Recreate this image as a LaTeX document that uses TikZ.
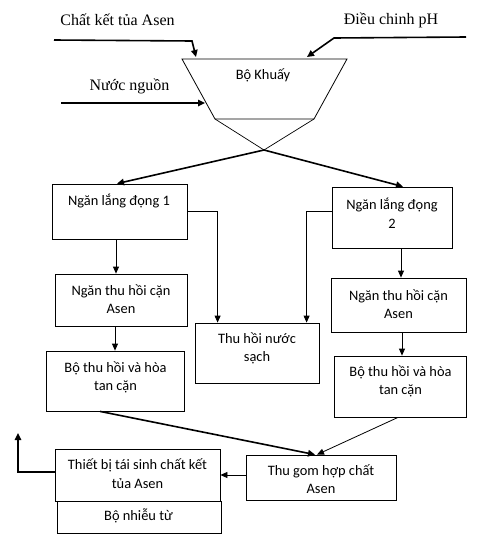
\documentclass[tikz,border=0pt]{standalone}
\usepackage{fontspec}
\setmainfont{Liberation Serif}
\newfontfamily\calfont{Carlito}
\usetikzlibrary{arrows.meta}
\begin{document}
\begin{tikzpicture}[x=1pt,y=-1pt,
  box/.style={draw,line width=0.8pt,inner sep=0pt},
  txt/.style={font=\calfont\fontsize{14.4}{18.5}\selectfont,align=center,inner sep=0pt},
  stxt/.style={font=\fontsize{16}{19}\selectfont,inner sep=0pt},
  thinarr/.style={line width=0.8pt,-{Triangle[length=7pt,width=6pt]}},
  thickarr/.style={line width=1.6pt,-{Triangle[length=7pt,width=6.5pt]}}]
\useasboundingbox (0,0) rectangle (482,544);
% texts (serif)
\node[stxt] (tchat) at (117.5,20) {Chất kết tủa Asen};
\node[stxt] (tdieu) at (391,20) {Điều chinh pH};
\node[stxt] (tnuoc) at (129.5,86) {Nước nguồn};
% mixer trapezoid
\coordinate (ktl) at (182,59);
\coordinate (ktr) at (347,59);
\coordinate (kbr) at (314,119);
\coordinate (kbl) at (215,119);
\coordinate (kx) at (264,150);
\draw[line width=0.8pt] (ktl) -- (ktr) -- (kbr) -- (kbl) -- cycle;
\draw[line width=0.7pt] (kbl) -- (kx) (kbr) -- (kx);
\node[txt] (khuay) at (263,75) {Bộ Khuấy};
% input arrows
\coordinate (c1s) at (54,40);
\coordinate (c1b) at (192,41);
\coordinate (c1e) at (196,57);
\draw[thickarr] (c1s) -- (c1b) -- (c1e);
\coordinate (p1s) at (466,37);
\coordinate (p1b) at (334,38);
\coordinate (p1e) at (307,57);
\draw[thickarr] (p1s) -- (p1b) -- (p1e);
\coordinate (n1s) at (61,103);
\coordinate (n1e) at (205,103);
\draw[thickarr] (n1s) -- (n1e);
% boxes
\node[box,minimum width=135pt,minimum height=55pt] (L1) at (119.5,211.5) {};
\node[txt] (L1t) at (119,201) {Ngăn lắng đọng 1};
\node[box,minimum width=120pt,minimum height=61pt] (R1) at (392,217.5) {};
\node[txt] (R1t) at (392,213) {Ngăn lắng đọng\\2};
\node[box,minimum width=132pt,minimum height=52pt] (L2) at (121,300) {};
\node[txt] (L2t) at (121,299) {Ngăn thu hồi cặn\\Asen};
\node[box,minimum width=135pt,minimum height=54pt] (R2) at (398.5,305) {};
\node[txt] (R2t) at (398.5,304) {Ngăn thu hồi cặn\\Asen};
\node[box,minimum width=124pt,minimum height=60pt] (W) at (257,353) {};
\node[txt] (Wt) at (257,348.5) {Thu hồi nước\\sạch};
\node[box,minimum width=138pt,minimum height=60pt] (L3) at (115,381) {};
\node[txt] (L3t) at (115.5,377.5) {Bộ thu hồi và hòa\\tan cặn};
\node[box,minimum width=132pt,minimum height=61pt] (R3) at (400,386.5) {};
\node[txt] (R3t) at (400.5,381.5) {Bộ thu hồi và hòa\\tan cặn};
\node[box,minimum width=165pt,minimum height=52pt] (T) at (137.5,475) {};
\node[txt] (Tt) at (137.5,473.5) {Thiết bị tái sinh chất kết\\tủa Asen};
\node[box,minimum width=164pt,minimum height=32pt] (B) at (139,517) {};
\node[txt] (Bt) at (138.5,516) {Bộ nhiễu từ};
\node[box,minimum width=150pt,minimum height=45pt] (G) at (321,477.5) {};
\node[txt] (Gt) at (321,479) {Thu gom hợp chất\\Asen};
% split arrows
\draw[thickarr] (kx) -- ([xshift=-2.5pt]L1.north);
\draw[thickarr] (kx) -- ([xshift=11pt]R1.north);
% connectors
\draw[thinarr] (L1.east) -| ([xshift=23pt]W.north west);
\draw[thinarr] ([yshift=6.5pt]R1.west) -| ([xshift=112pt]W.north west);
\draw[thinarr] ([xshift=-3.5pt]L1.south) -- ([xshift=-3.5pt]L1.south |- L2.north);
\draw[thinarr] ([xshift=-6pt]L2.south) -- ([xshift=-6pt]L2.south |- L3.north);
\draw[thinarr] ([xshift=9pt]R1.south) -- ([xshift=9pt]R1.south |- R2.north);
\draw[thinarr] ([xshift=3.5pt]R2.south) -- ([xshift=3.5pt]R2.south |- R3.north);
\draw[thickarr] ([xshift=-15pt]L3.south) -- ([xshift=-6pt]G.north);
\draw[thinarr] ([xshift=-2pt]R3.south) -- ([xshift=-4pt]G.north);
\draw[thinarr] ([yshift=2.5pt]G.west) -- ([yshift=2.5pt]G.west -| T.east);
\coordinate (up) at (18,433);
\draw[thickarr] ([yshift=3pt]T.west) -| (up);
\end{tikzpicture}
\end{document}
